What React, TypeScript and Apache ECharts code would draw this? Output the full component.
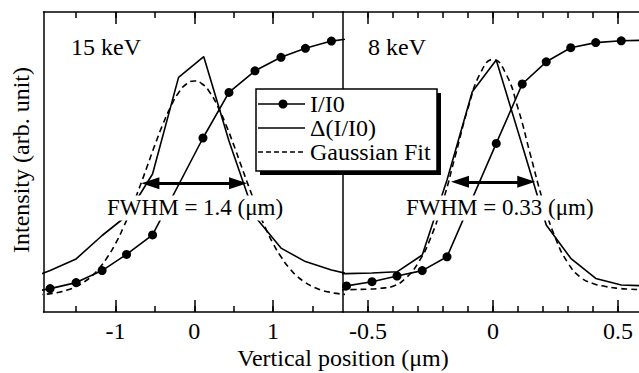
import { useEffect, useRef } from "react";
import * as echarts from "echarts";

const FONT = "'Liberation Serif', 'Times New Roman', Times, serif";
const BLACK = "#000";

// ---------- 15 keV panel ----------
const range15 = [-1.914, 1.887];
const iX15 = [-2.16, -1.83, -1.5, -1.17, -0.86, -0.53, 0.11, 0.44, 0.77, 1.1, 1.41, 1.74, 2.07];
const iY15 = [0.062, 0.078, 0.098, 0.138, 0.192, 0.257, 0.58, 0.732, 0.804, 0.849, 0.879, 0.903, 0.915];
const dX15 = [-2.16, -1.83, -1.5, -1.17, -0.86, -0.53, -0.2, 0.12, 0.44, 0.77, 1.1, 1.41, 1.74, 2.07];
const dY15 = [0.105, 0.138, 0.177, 0.255, 0.32, 0.46, 0.782, 0.851, 0.57, 0.318, 0.213, 0.168, 0.14, 0.12];
const gX15 = [
  -2.0, -1.9, -1.8, -1.7, -1.6, -1.5, -1.4, -1.3, -1.2, -1.1, -1.0, -0.9, -0.8, -0.7, -0.6, -0.5, -0.4, -0.3, -0.2, -0.1,
  0, 0.1, 0.2, 0.3, 0.4, 0.5, 0.6, 0.7, 0.8, 0.9, 1.0, 1.1, 1.2, 1.3, 1.4, 1.5, 1.6, 1.7, 1.8, 1.9, 2.0,
];
const gY15 = [
  0.058, 0.059, 0.062, 0.067, 0.074, 0.085, 0.1, 0.12, 0.148, 0.184, 0.228, 0.282, 0.344, 0.412, 0.484, 0.557, 0.625, 0.684, 0.731, 0.76,
  0.77, 0.76, 0.731, 0.684, 0.625, 0.557, 0.484, 0.412, 0.344, 0.282, 0.228, 0.184, 0.148, 0.12, 0.1, 0.085, 0.074, 0.067, 0.062, 0.059, 0.058,
];
const arrow15 = [-0.558, 0.555];
const arrowY15 = 0.429;
const labelPos15 = [0.01, 0.347];
const label15 = "FWHM = 1.4 (μm)";
const major15 = [-1, 0, 1];
const minor15 = [-1.5, -1, -0.5, 0, 0.5, 1, 1.5];

// ---------- 8 keV panel ----------
const range8 = [-0.6, 0.6];
const iX8 = [-0.69, -0.586, -0.484, -0.384, -0.283, -0.184, 0.013, 0.117, 0.213, 0.311, 0.411, 0.513, 0.61];
const iY8 = [0.073, 0.087, 0.101, 0.12, 0.138, 0.184, 0.562, 0.76, 0.834, 0.881, 0.898, 0.904, 0.906];
const dX8 = [-0.69, -0.586, -0.484, -0.384, -0.283, -0.184, -0.083, 0.013, 0.117, 0.213, 0.311, 0.411, 0.513, 0.61];
const dY8 = [0.126, 0.128, 0.13, 0.134, 0.19, 0.44, 0.734, 0.84, 0.555, 0.29, 0.179, 0.112, 0.09, 0.087];
const gX8 = [
  -0.65, -0.6, -0.55, -0.5, -0.45, -0.4, -0.35, -0.3, -0.25, -0.2, -0.15, -0.1, -0.05,
  0, 0.05, 0.1, 0.15, 0.2, 0.25, 0.3, 0.35, 0.4, 0.45, 0.5, 0.55, 0.6, 0.65,
];
const gY8 = [
  0.073, 0.074, 0.075, 0.076, 0.079, 0.086, 0.112, 0.163, 0.246, 0.369, 0.523, 0.679, 0.797,
  0.842, 0.797, 0.679, 0.523, 0.369, 0.246, 0.163, 0.116, 0.095, 0.085, 0.079, 0.076, 0.074, 0.073,
];
const arrow8 = [-0.132, 0.133];
const arrowY8 = 0.434;
const labelPos8 = [0.027, 0.347];
const label8 = "FWHM = 0.33 (μm)";
const major8 = [-0.5, 0, 0.5];
const minor8 = [-0.5, -0.4, -0.3, -0.2, -0.1, 0, 0.1, 0.2, 0.3, 0.4, 0.5];

const legendNames = ["I/I0", "Δ(I/I0)", "Gaussian Fit"];

const zip = (xs: number[], ys: number[]) => xs.map((x, i) => [x, ys[i]]);

const mkX = (
  gridIndex: number,
  range: number[],
  position: string,
  ticks: number[],
  len: number,
  line: boolean,
  labels: number[] | null
) => ({
  type: "value",
  gridIndex,
  min: range[0],
  max: range[1],
  position,
  axisLine: { show: line, onZero: false, lineStyle: { color: BLACK, width: 1.5 } },
  axisTick: { show: true, inside: true, length: len, customValues: ticks, lineStyle: { color: BLACK, width: 1.5 } },
  axisLabel: labels
    ? { show: true, customValues: labels, margin: 7, fontSize: 24, fontFamily: FONT, color: BLACK }
    : { show: false },
  splitLine: { show: false },
});

const mkY = (gridIndex: number) => ({
  type: "value",
  gridIndex,
  min: 0,
  max: 1,
  axisLine: { show: true, onZero: false, lineStyle: { color: BLACK, width: 1.5 } },
  axisTick: { show: false },
  axisLabel: { show: false },
  splitLine: { show: false },
});

const lineSeries = (name: string, xi: number, yi: number, data: number[][], extra: any) => ({
  name,
  type: "line",
  xAxisIndex: xi,
  yAxisIndex: yi,
  data,
  clip: true,
  silent: true,
  lineStyle: { color: BLACK, width: 1.6 },
  itemStyle: { color: BLACK },
  ...extra,
});

const annotation = (xi: number, yi: number, pos: number[], text: string, ends: number[], y: number) => ({
  type: "scatter",
  xAxisIndex: xi,
  yAxisIndex: yi,
  z: 10,
  silent: true,
  symbolSize: 0,
  itemStyle: { color: BLACK, opacity: 1 },
  data: [pos],
  label: {
    show: true,
    position: "inside",
    formatter: text,
    fontSize: 23,
    fontFamily: FONT,
    color: BLACK,
    opacity: 1,
    textBorderWidth: 0,
    textBorderColor: "transparent",
    backgroundColor: "#fff",
    padding: [1, 1],
  },
  markLine: {
    silent: true,
    symbol: ["triangle", "triangle"],
    symbolSize: [12, 18],
    lineStyle: { color: BLACK, width: 3, type: "solid", opacity: 1 },
    itemStyle: { color: BLACK, opacity: 1 },
    label: { show: false },
    data: [[{ coord: [ends[0], y] }, { coord: [ends[1], y] }]],
  },
});

export default function App() {
  const ref = useRef<HTMLDivElement>(null);
  useEffect(() => {
    document.body.style.margin = "0";
    const chart = echarts.init(ref.current as HTMLDivElement, null, { renderer: "svg" });
    const txt = (text: string, x: number, y: number, align: string, extra: any = {}, lh?: number) => ({
      type: "text",
      x,
      y,
      z: 100,
      ...extra,
      style: {
        text,
        fontSize: 24,
        fontFamily: FONT,
        fill: BLACK,
        align,
        verticalAlign: "middle",
        ...(lh ? { lineHeight: lh } : {}),
      },
    });
    const option: any = {
      animation: false,
      backgroundColor: "#fff",
      grid: [
        { left: 43.5, top: 12, width: 299.5, height: 300, outerBoundsMode: "none" },
        { left: 343, top: 12, width: 300, height: 300, outerBoundsMode: "none" },
      ],
      xAxis: [
        mkX(0, range15, "bottom", minor15, 6, true, major15),
        mkX(0, range15, "bottom", major15, 12, false, null),
        mkX(0, range15, "top", minor15, 6, true, null),
        mkX(0, range15, "top", major15, 12, false, null),
        mkX(1, range8, "bottom", minor8, 6, true, major8),
        mkX(1, range8, "bottom", major8, 12, false, null),
        mkX(1, range8, "top", minor8, 6, true, null),
        mkX(1, range8, "top", major8, 12, false, null),
      ],
      yAxis: [mkY(0), mkY(1)],
      series: [
        lineSeries(legendNames[0], 0, 0, zip(iX15, iY15), { symbol: "circle", symbolSize: 9, showSymbol: true }),
        lineSeries(legendNames[1], 0, 0, zip(dX15, dY15), { symbol: "none" }),
        lineSeries(legendNames[2], 0, 0, zip(gX15, gY15), {
          symbol: "none",
          smooth: true,
          lineStyle: { color: BLACK, width: 1.6, type: [6, 4] },
        }),
        annotation(0, 0, labelPos15, label15, arrow15, arrowY15),
        lineSeries(legendNames[0], 4, 1, zip(iX8, iY8), { symbol: "circle", symbolSize: 9, showSymbol: true }),
        lineSeries(legendNames[1], 4, 1, zip(dX8, dY8), { symbol: "none" }),
        lineSeries(legendNames[2], 4, 1, zip(gX8, gY8), {
          symbol: "none",
          smooth: true,
          lineStyle: { color: BLACK, width: 1.6, type: [6, 4] },
        }),
        annotation(4, 1, labelPos8, label8, arrow8, arrowY8),
      ],
      graphic: [
        txt("Intensity (arb. unit)", 21, 160, "center", { rotation: Math.PI / 2 }),
        txt("Vertical position (μm)", 343, 358, "center"),
        txt("15 keV", 71, 47, "left"),
        txt("8 keV", 368, 47, "left"),
        { type: "rect", z: 100, shape: { x: 260, y: 93, width: 181, height: 82 }, style: { fill: BLACK } },
        {
          type: "rect",
          z: 101,
          shape: { x: 256, y: 89, width: 181, height: 82 },
          style: { fill: "#fff", stroke: BLACK, lineWidth: 1.5 },
        },
        { type: "line", z: 102, shape: { x1: 258, y1: 104, x2: 305, y2: 104 }, style: { stroke: BLACK, lineWidth: 1.6 } },
        { type: "circle", z: 103, shape: { cx: 283, cy: 104, r: 4.5 }, style: { fill: BLACK } },
        { type: "line", z: 102, shape: { x1: 258, y1: 128, x2: 305, y2: 128 }, style: { stroke: BLACK, lineWidth: 1.6 } },
        {
          type: "line",
          z: 102,
          shape: { x1: 258, y1: 152, x2: 305, y2: 152 },
          style: { stroke: BLACK, lineWidth: 1.6, lineDash: [5, 3] },
        },
        txt(legendNames[0], 310, 104, "left", { z: 103 }, 22),
        txt(legendNames[1], 310, 128, "left", { z: 103 }, 22),
        txt(legendNames[2], 310, 152, "left", { z: 103 }, 22),
      ],
    };
    chart.setOption(option);
    return () => chart.dispose();
  }, []);
  return <div ref={ref} style={{ width: 639, height: 373 }} />;
}
